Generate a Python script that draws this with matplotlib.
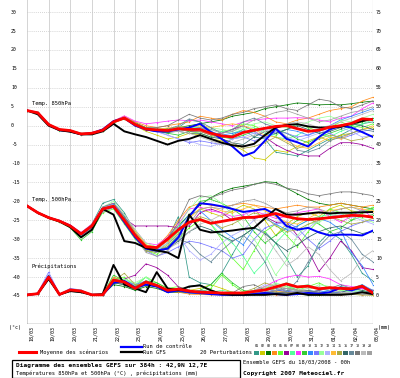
import numpy as np
import matplotlib
matplotlib.use("Agg")
import matplotlib.pyplot as plt
import matplotlib.transforms as mtransforms
from matplotlib.patches import Rectangle
from matplotlib.lines import Line2D

plt.rcParams['font.family'] = ['DejaVu Sans Mono']

# GEFS run 18/03/2008 00h, one point every 12h up to 384h
hours = list(range(0, 385, 12))
days = np.array(hours) / 24.0

date_labels = ["18/03", "19/03", "20/03", "21/03", "22/03", "23/03", "24/03", "25/03", "26/03",
               "27/03", "28/03", "29/03", "30/03", "31/03", "01/04", "02/04", "03/04"]
temp_ticks = list(range(-45, 31, 5))
precip_ticks = list(range(0, 76, 5))

member_ids = ["01", "02", "03", "04", "05", "06", "07", "08", "09", "10",
              "11", "12", "13", "14", "15", "16", "17", "18", "19", "20"]
member_colors = ["#339988", "#cccc00", "#007700", "#ff8c1a", "#66ff33", "#990099", "#55ff99",
                 "#ff33ff", "#33cc33", "#3388ff", "#7777ff", "#99ff99", "#b0b0ff", "#ffbb33",
                 "#aaaa44", "#336666", "#668899", "#777777", "#bbbbbb", "#a0a0a0"]

# ---- 850 hPa (degC) ----
t850_mean = [4.0, 3.4, 0.3, -1.0, -1.3, -2.2, -2.0, -1.2, 1.0, 2.0, 0.3, -0.9, -1.1, -1.3, -0.8, -1.0, -1.0,
             -2.0, -2.7, -3.0, -1.8, -1.2, -0.7, -0.2, 0.0, -0.8, -1.5, -1.2, -0.4, 0.0, 0.6, 1.8, 1.6]
t850_ctrl = [4.0, 3.4, 0.3, -1.2, -1.5, -2.3, -2.0, -1.0, 1.2, 2.0, 0.0, -1.0, -1.5, -1.5, -1.0, -0.5, 0.5,
             -1.7, -3.5, -5.5, -8.0, -7.0, -4.0, -0.8, -3.5, -4.4, -5.5, -3.0, -1.0, 0.0, -0.5, -1.7, -3.0]
t850_gfs = [4.0, 3.0, 0.0, -1.2, -1.6, -2.3, -2.3, -1.5, 0.5, -1.5, -2.3, -3.0, -4.0, -5.0, -4.0, -3.5, -2.5,
            -3.5, -4.5, -5.2, -5.5, -4.8, -2.5, -0.5, 0.2, 0.4, -0.2, -0.5, -0.5, -0.3, 0.5, 1.2, 1.8]
t850_members = [
    [4.0, 3.3, 0.5, -1.2, -1.5, -2.3, -1.9, -1.0, 1.2, 2.2, 0.5, -0.8, -1.5, -2.0, -0.5, 1.5, 1.0,
     -1.5, -3.0, -2.5, -1.0, -3.0, -3.5, -7.0, -7.5, -8.0, -6.5, -5.0, -3.5, -2.5, -1.0, 0.5, 1.0],
    [4.0, 3.5, 0.2, -1.1, -1.2, -2.0, -1.8, -1.3, 0.8, 1.8, 0.0, -1.5, -2.5, -3.5, -3.0, -2.0, -2.5,
     -3.5, -4.0, -5.0, -6.5, -8.5, -9.0, -6.5, -7.0, -5.5, -4.0, -3.0, -4.0, -2.5, -2.0, -1.0, -0.5],
    [4.0, 3.4, 0.4, -0.9, -1.4, -2.1, -2.0, -1.1, 1.1, 2.3, 0.8, -0.5, -1.0, -0.8, -0.5, 0.0, 0.5,
     1.0, 1.5, 2.5, 3.0, 3.5, 4.5, 5.0, 5.5, 6.0, 5.8, 5.5, 5.6, 5.5, 5.8, 6.2, 6.5],
    [4.0, 3.3, 0.3, -1.0, -1.2, -2.2, -2.1, -1.2, 1.3, 2.5, 1.0, 0.0, -0.5, 0.0, 0.5, 1.0, 2.5,
     2.0, 1.5, 3.0, 4.0, 3.5, 2.5, 1.0, 0.5, 1.5, 2.0, 3.0, 4.0, 4.5, 5.0, 6.5, 7.5],
    [4.0, 3.5, 0.3, -1.3, -1.6, -2.4, -2.2, -1.3, 0.7, 1.8, 0.2, -1.0, -1.3, -1.5, -1.0, -1.5, -2.0,
     -3.0, -1.5, -1.0, 0.5, 0.0, -1.5, -2.5, -1.0, 0.5, -0.5, -1.5, -0.5, 1.0, 0.0, -0.5, 0.5],
    [4.0, 3.4, 0.2, -1.0, -1.2, -2.0, -1.9, -1.2, 1.0, 2.1, 0.4, -0.8, -1.2, -1.6, -1.0, -1.5, -1.5,
     -2.5, -2.0, -1.0, 0.0, -1.5, -3.0, -5.0, -6.5, -7.5, -8.0, -8.0, -6.0, -4.5, -4.5, -5.0, -6.0],
    [4.0, 3.3, 0.4, -1.1, -1.4, -2.3, -2.0, -1.0, 1.2, 2.2, 0.6, -0.5, -0.8, -1.0, -0.3, -0.5, -0.5,
     -1.0, -1.5, -2.0, -1.0, -0.5, -2.0, -3.0, -3.5, -2.5, -1.0, -2.0, -3.0, -1.5, -0.5, 0.5, 1.5],
    [4.0, 3.4, 0.3, -1.0, -1.3, -2.1, -1.8, -1.1, 1.2, 2.6, 1.2, 0.5, 0.8, 1.2, 1.5, 1.3, 1.5,
     1.0, 0.5, 0.0, 1.0, 1.5, 1.8, 2.0, 2.0, 2.1, 2.0, 1.5, 1.0, 2.0, 2.5, 4.5, 6.0],
    [4.0, 3.3, 0.3, -1.2, -1.5, -2.4, -2.1, -1.3, 0.8, 1.9, 0.3, -1.0, -1.3, -2.0, -2.5, -1.5, -1.0,
     -2.0, -3.0, -3.5, -2.5, -1.5, -0.5, -1.0, -2.0, -3.5, -4.5, -3.0, -2.0, -1.0, 0.0, 1.0, 2.0],
    [4.0, 3.4, 0.4, -1.0, -1.4, -2.2, -2.0, -1.2, 1.0, 2.0, 0.2, -1.0, -1.5, -1.2, -0.5, -1.0, -0.5,
     -1.5, -2.5, -2.0, -1.5, -2.0, -3.0, -2.0, -1.0, -1.5, -2.5, -1.5, 0.0, 1.5, 2.5, 3.5, 4.5],
    [4.0, 3.5, 0.2, -0.9, -1.2, -2.1, -1.9, -1.2, 0.9, 1.9, 0.1, -1.2, -1.5, -2.5, -3.5, -4.5, -4.0,
     -4.5, -5.0, -3.5, -3.0, -4.0, -3.0, -1.5, -2.0, -3.0, -2.5, -1.0, -2.0, -3.5, -2.5, -1.5, -1.0],
    [4.0, 3.4, 0.3, -1.1, -1.3, -2.2, -2.0, -1.1, 1.1, 2.0, 0.5, -0.7, -1.0, -1.0, -0.7, -0.5, 0.0,
     -0.5, -1.0, -1.5, -0.5, 0.5, 1.0, 0.0, -0.5, 0.0, 1.0, 2.0, 2.5, 1.5, 1.0, 2.0, 3.0],
    [4.0, 3.3, 0.3, -1.0, -1.3, -2.3, -2.1, -1.2, 1.0, 2.1, 0.3, -1.1, -1.6, -2.5, -3.5, -4.0, -5.0,
     -5.5, -4.5, -3.5, -3.0, -2.0, -1.0, -1.5, -3.0, -4.0, -3.0, -2.0, -1.0, -0.5, -1.5, -3.0, -2.5],
    [4.0, 3.4, 0.3, -1.0, -1.4, -2.2, -2.0, -1.2, 1.1, 2.3, 0.6, -0.6, -1.0, -0.6, -0.3, -0.5, 0.0,
     -0.5, 0.0, 0.5, 0.0, -1.0, -2.5, -3.0, -4.0, -5.5, -6.0, -4.5, -3.0, -3.5, -2.0, -1.0, 0.0],
    [4.0, 3.4, 0.4, -1.0, -1.3, -2.1, -2.0, -1.2, 0.9, 2.0, 0.4, -0.9, -1.1, -1.3, -1.0, -1.3, -1.5,
     -2.5, -3.5, -4.5, -6.0, -5.5, -4.5, -3.0, -4.5, -6.0, -5.0, -3.5, -2.5, -3.0, -4.0, -3.5, -2.5],
    [4.0, 3.3, 0.3, -1.1, -1.5, -2.3, -2.0, -1.3, 0.9, 1.9, 0.2, -1.1, -1.5, -1.8, -1.5, -2.0, -2.0,
     -3.0, -3.5, -4.5, -5.0, -3.0, -1.5, -2.0, -1.0, 0.0, -1.0, -2.0, -1.5, -0.5, 0.5, 0.0, -1.0],
    [4.0, 3.4, 0.3, -1.0, -1.2, -2.1, -1.9, -1.0, 1.2, 2.2, 0.5, -0.7, -1.0, -1.0, 0.0, 1.8, 1.0,
     -0.5, -2.0, -1.0, 1.0, 2.0, 0.5, -0.5, -3.0, -6.5, -7.0, -6.0, -4.0, -3.0, -2.0, -1.0, -1.5],
    [4.0, 3.4, 0.3, -1.0, -1.3, -2.2, -2.0, -1.2, 1.1, 2.1, 0.6, -0.5, -0.5, 0.0, 1.5, 3.0, 2.0,
     1.5, 2.0, 3.0, 3.5, 4.5, 5.0, 5.5, 4.5, 4.0, 5.5, 7.0, 6.5, 5.0, 4.5, 5.5, 6.5],
    [4.0, 3.3, 0.3, -1.0, -1.3, -2.2, -2.1, -1.2, 1.0, 2.0, 0.3, -1.0, -1.2, -1.5, -1.5, -2.0, -3.0,
     -4.0, -5.0, -4.5, -3.5, -2.5, -1.5, -0.5, 0.5, 1.0, 0.5, -0.5, 0.0, 1.0, 2.0, 3.0, 4.0],
    [4.0, 3.4, 0.3, -1.0, -1.3, -2.2, -2.0, -1.1, 1.0, 2.1, 0.4, -0.8, -1.0, -1.2, -1.2, -1.0, -0.5,
     -1.0, -2.0, -1.5, 0.0, 1.5, 2.5, 3.5, 4.0, 3.0, 2.0, 1.0, 1.5, 2.5, 3.5, 4.0, 5.0],
]

# ---- 500 hPa (degC) ----
t500_mean = [-21.2, -23.0, -24.3, -25.2, -26.5, -28.6, -26.5, -22.0, -21.3, -25.0, -29.0, -32.0, -32.2,
             -30.0, -27.5, -25.5, -24.8, -25.8, -25.3, -24.8, -24.3, -24.2, -23.8, -23.2, -24.0, -24.6,
             -24.8, -24.6, -24.3, -24.0, -23.7, -23.8, -24.2]
t500_ctrl = [-21.2, -23.0, -24.3, -25.2, -26.5, -28.7, -26.6, -22.0, -21.4, -25.5, -29.5, -32.5, -33.0,
             -32.5, -29.5, -24.0, -20.5, -20.8, -21.3, -22.0, -22.8, -22.4, -22.0, -23.5, -26.5, -27.5,
             -27.0, -28.2, -29.0, -28.8, -28.8, -29.0, -27.7]
t500_gfs = [-21.2, -23.0, -24.3, -25.3, -26.8, -29.5, -27.5, -22.0, -23.5, -30.5, -31.0, -32.3, -33.0,
            -33.5, -35.0, -23.5, -27.5, -28.2, -28.0, -27.7, -27.3, -27.0, -24.5, -22.0, -23.5, -23.5,
            -23.2, -22.9, -23.2, -23.0, -23.0, -22.9, -22.8]
t500_members = [
    [-21.2, -23.0, -24.2, -25.0, -26.3, -28.4, -26.0, -20.5, -19.5, -23.0, -28.0, -31.5, -33.0, -30.0, -24.0, -40.0, -41.5,
     -42.0, -39.0, -34.0, -29.0, -27.0, -28.0, -31.0, -35.0, -40.0, -37.0, -31.0, -28.0, -30.0, -34.0, -39.0, -41.0],
    [-21.2, -23.1, -24.4, -25.3, -26.6, -28.8, -27.0, -22.5, -21.5, -25.5, -29.5, -33.0, -33.5, -31.0, -28.0, -24.0, -22.0,
     -23.0, -24.0, -22.5, -21.0, -22.0, -25.0, -29.0, -26.0, -24.0, -23.0, -24.0, -22.0, -21.0, -22.5, -23.0, -22.0],
    [-21.2, -23.0, -24.3, -25.1, -26.4, -28.5, -26.5, -22.0, -21.0, -24.5, -28.5, -32.0, -32.5, -29.5, -26.5, -23.5, -21.0,
     -19.0, -17.5, -16.5, -16.0, -15.5, -14.8, -15.0, -16.5, -18.0, -19.5, -20.5, -21.0, -20.5, -21.0, -21.5, -22.0],
    [-21.2, -22.9, -24.2, -25.1, -26.4, -28.3, -26.3, -21.5, -20.5, -24.0, -28.0, -31.5, -32.0, -29.0, -25.0, -21.5, -20.5,
     -21.0, -21.5, -21.0, -20.5, -21.0, -21.5, -22.0, -21.5, -21.0, -21.5, -21.5, -21.0, -20.5, -21.0, -21.5, -21.0],
    [-21.2, -23.1, -24.5, -25.4, -26.8, -29.5, -27.5, -23.0, -22.0, -26.0, -30.0, -33.0, -34.0, -32.0, -30.0, -27.0, -25.0,
     -26.0, -30.0, -35.0, -38.0, -33.0, -28.0, -26.0, -29.0, -32.0, -28.0, -25.0, -22.0, -23.0, -25.0, -23.0, -21.5],
    [-21.2, -23.0, -24.3, -25.2, -26.5, -28.6, -26.8, -22.5, -21.5, -24.5, -26.5, -26.5, -26.5, -26.5, -27.0, -26.5, -23.0,
     -22.0, -23.0, -25.0, -24.0, -24.5, -24.0, -25.5, -25.5, -29.0, -33.0, -38.5, -35.0, -30.5, -33.0, -37.5, -38.0],
    [-21.2, -23.0, -24.4, -25.3, -26.6, -29.0, -27.2, -22.8, -21.5, -25.0, -29.5, -32.5, -33.0, -31.0, -28.0, -25.5, -24.5,
     -26.0, -29.0, -31.0, -34.5, -39.0, -36.0, -31.0, -28.0, -26.5, -25.0, -24.0, -23.5, -24.0, -23.0, -22.5, -22.0],
    [-21.2, -22.9, -24.2, -25.0, -26.2, -28.2, -26.0, -21.5, -20.5, -23.5, -27.5, -31.0, -31.5, -29.5, -26.0, -22.0, -21.5,
     -22.5, -23.0, -24.0, -23.5, -22.5, -23.5, -24.5, -24.0, -23.0, -22.5, -22.0, -24.0, -25.5, -24.0, -22.0, -24.5],
    [-21.2, -23.2, -24.5, -25.5, -27.0, -30.2, -28.0, -22.5, -21.0, -24.5, -29.0, -32.5, -33.5, -32.0, -29.0, -24.0, -20.0,
     -19.5, -20.5, -22.0, -24.0, -28.0, -31.0, -29.0, -27.0, -25.0, -24.5, -26.0, -28.0, -27.0, -25.0, -24.0, -23.5],
    [-21.2, -23.0, -24.3, -25.2, -26.5, -28.7, -26.5, -21.8, -20.8, -24.0, -28.5, -32.0, -32.5, -30.5, -27.0, -23.5, -22.5,
     -25.0, -27.5, -29.5, -31.5, -27.0, -24.5, -26.0, -27.5, -26.5, -25.0, -24.5, -25.5, -27.5, -33.5, -37.0, -42.0],
    [-21.2, -23.1, -24.4, -25.3, -26.7, -29.0, -27.0, -22.0, -21.0, -25.0, -29.0, -33.0, -34.5, -33.5, -32.0, -30.5, -31.0,
     -32.0, -33.0, -35.0, -34.0, -30.0, -27.0, -26.0, -25.5, -27.0, -30.0, -32.5, -30.5, -28.0, -26.5, -25.5, -25.0],
    [-21.2, -23.0, -24.3, -25.2, -26.4, -28.5, -26.5, -21.5, -20.0, -23.5, -27.5, -31.0, -32.0, -30.0, -26.5, -22.0, -19.0,
     -18.5, -20.5, -23.5, -27.0, -30.0, -34.0, -39.5, -35.5, -29.0, -26.0, -25.5, -24.0, -23.0, -23.5, -24.5, -25.5],
    [-21.2, -23.0, -24.3, -25.3, -26.6, -28.8, -27.0, -22.5, -21.5, -25.0, -29.0, -32.5, -33.0, -31.0, -29.0, -33.0, -35.5,
     -34.0, -31.0, -29.0, -27.5, -25.0, -23.0, -24.0, -27.0, -29.5, -27.0, -25.0, -24.0, -23.5, -24.0, -25.0, -26.0],
    [-21.2, -22.9, -24.2, -25.1, -26.4, -28.4, -26.2, -21.8, -21.0, -24.5, -28.0, -31.5, -32.5, -30.5, -27.5, -24.5, -22.0,
     -21.5, -22.5, -23.0, -22.0, -21.0, -22.5, -24.0, -25.5, -26.0, -24.5, -23.0, -22.5, -22.0, -21.5, -22.0, -22.5],
    [-21.2, -23.1, -24.4, -25.3, -26.5, -28.6, -26.8, -22.2, -21.5, -25.0, -29.5, -33.0, -33.5, -31.5, -28.5, -25.5, -24.0,
     -25.0, -27.0, -26.0, -24.5, -23.0, -24.0, -26.5, -28.0, -27.5, -26.0, -25.0, -24.0, -25.0, -26.0, -25.5, -24.5],
    [-21.2, -23.0, -24.3, -25.2, -26.5, -28.6, -26.5, -22.0, -21.3, -25.0, -29.0, -32.5, -33.5, -32.5, -30.5, -28.0, -26.5,
     -27.5, -29.0, -30.5, -29.0, -27.0, -28.5, -31.0, -33.0, -31.5, -29.5, -28.0, -27.0, -26.5, -27.5, -28.5, -28.0],
    [-21.2, -23.0, -24.2, -25.1, -26.3, -28.3, -26.2, -21.5, -20.5, -24.0, -28.5, -32.0, -33.0, -32.0, -30.0, -31.0, -34.0,
     -36.0, -33.0, -30.5, -29.0, -31.5, -36.0, -42.0, -44.0, -41.0, -36.0, -32.0, -29.0, -28.0, -30.0, -34.0, -36.0],
    [-21.2, -23.0, -24.3, -25.2, -26.5, -28.6, -26.6, -22.0, -21.2, -24.5, -28.5, -32.0, -32.5, -30.0, -25.5, -19.5, -18.5,
     -19.0, -18.0, -17.0, -16.5, -15.5, -15.0, -15.5, -16.5, -17.0, -18.0, -18.5, -18.0, -17.5, -17.5, -18.0, -18.5],
    [-21.2, -23.0, -24.3, -25.2, -26.5, -28.7, -27.0, -22.5, -21.5, -25.0, -29.0, -32.5, -33.5, -32.5, -31.0, -28.0, -26.0,
     -25.0, -23.5, -22.0, -22.5, -25.0, -29.0, -33.0, -37.0, -35.0, -32.0, -34.0, -38.0, -41.0, -39.0, -35.0, -33.0],
    [-21.2, -23.1, -24.4, -25.2, -26.6, -28.9, -27.2, -22.7, -21.7, -25.5, -29.5, -33.5, -34.5, -33.0, -30.0, -26.0, -22.0,
     -21.5, -22.0, -21.0, -20.0, -19.5, -20.5, -22.0, -23.0, -22.5, -21.5, -22.0, -23.0, -22.0, -21.5, -22.5, -23.0],
]

# ---- precipitation (mm, right axis) ----
pr_mean = [0.3, 0.6, 5.0, 0.4, 1.6, 1.3, 0.3, 0.3, 4.2, 3.7, 2.0, 3.7, 2.8, 1.5, 1.8, 1.3, 1.0,
           0.9, 0.8, 0.8, 0.8, 1.2, 1.6, 2.4, 3.2, 2.4, 2.6, 1.9, 2.2, 2.0, 1.9, 2.6, 0.8]
pr_ctrl = [0.3, 0.6, 5.2, 0.4, 1.5, 1.2, 0.3, 0.3, 3.5, 4.0, 2.2, 3.0, 2.5, 1.0, 1.5, 1.0, 0.8,
           0.5, 0.3, 0.3, 0.3, 0.5, 0.8, 0.5, 0.3, 0.5, 0.8, 0.6, 1.0, 2.2, 1.5, 2.5, 1.0]
pr_gfs = [0.3, 0.6, 4.5, 0.4, 1.3, 1.0, 0.3, 0.5, 8.2, 3.0, 2.0, 1.0, 6.3, 2.0, 1.5, 2.5, 2.8,
          1.5, 0.5, 0.3, 0.3, 0.3, 0.3, 0.5, 0.3, 0.8, 0.3, 0.3, 0.3, 0.3, 0.5, 1.0, 0.5]
pr_members = [
    [0.3, 0.5, 4.5, 0.4, 1.5, 1.0, 0.3, 0.3, 3.5, 3.0, 1.5, 3.0, 2.5, 1.0, 1.0, 2.5, 3.0,
     1.5, 0.8, 0.5, 0.4, 0.8, 1.5, 2.5, 3.0, 1.5, 1.0, 0.8, 1.5, 2.5, 2.0, 3.0, 1.0],
    [0.3, 0.6, 5.5, 0.3, 1.8, 1.4, 0.3, 0.3, 4.5, 3.5, 2.5, 4.0, 3.0, 1.5, 2.0, 1.5, 2.0,
     3.0, 2.0, 1.0, 0.8, 1.5, 2.5, 1.5, 1.0, 0.5, 0.4, 0.3, 0.5, 1.0, 0.8, 0.5, 0.3],
    [0.3, 0.6, 4.8, 0.4, 1.2, 1.0, 0.3, 0.3, 3.0, 2.5, 1.5, 2.5, 2.0, 1.0, 1.0, 0.8, 0.6,
     0.5, 0.4, 0.3, 0.3, 0.4, 0.5, 0.6, 0.5, 0.4, 0.3, 0.3, 0.4, 0.5, 0.4, 0.3, 0.3],
    [0.3, 0.7, 5.0, 0.5, 1.6, 1.3, 0.3, 0.4, 5.0, 4.0, 2.0, 3.0, 2.5, 1.2, 1.0, 0.5, 0.4,
     0.3, 0.3, 0.3, 0.3, 0.4, 0.5, 0.3, 0.3, 0.4, 0.5, 0.4, 0.3, 0.3, 0.4, 0.3, 0.3],
    [0.3, 0.6, 5.2, 0.4, 1.8, 1.5, 0.3, 0.3, 4.5, 5.0, 2.5, 5.0, 3.5, 2.0, 2.5, 1.5, 1.0,
     2.0, 5.5, 3.0, 1.0, 1.5, 2.0, 3.0, 2.5, 1.5, 2.5, 3.5, 2.0, 1.5, 1.0, 0.8, 0.5],
    [0.3, 0.5, 4.5, 0.3, 1.4, 1.2, 0.3, 0.3, 3.5, 4.5, 5.5, 8.5, 7.5, 5.5, 2.4, 1.5, 1.0,
     0.8, 0.5, 0.5, 0.4, 0.5, 1.0, 1.5, 1.2, 1.0, 0.8, 1.5, 2.0, 1.0, 1.5, 2.0, 1.0],
    [0.3, 0.6, 5.0, 0.4, 1.6, 1.3, 0.3, 0.3, 4.0, 4.5, 3.0, 5.0, 2.5, 1.5, 1.5, 1.0, 0.8,
     1.0, 1.5, 1.0, 0.8, 1.0, 1.5, 2.5, 3.5, 2.5, 3.0, 2.0, 1.5, 1.0, 1.5, 1.2, 0.8],
    [0.3, 0.6, 4.8, 0.4, 1.5, 1.2, 0.3, 0.3, 4.0, 3.5, 2.0, 3.0, 3.0, 1.5, 2.0, 1.0, 0.8,
     0.6, 0.5, 0.5, 0.6, 1.0, 2.5, 4.0, 5.0, 5.5, 5.0, 5.2, 4.5, 3.0, 2.5, 2.0, 1.5],
    [0.3, 0.7, 5.5, 0.4, 1.7, 1.3, 0.3, 0.4, 5.5, 4.0, 2.5, 4.0, 3.5, 2.0, 2.0, 1.0, 1.5,
     3.0, 6.0, 3.5, 1.5, 1.0, 0.8, 1.5, 2.0, 1.5, 1.0, 0.8, 1.0, 0.8, 0.5, 0.4, 0.3],
    [0.3, 0.5, 4.5, 0.3, 1.3, 1.0, 0.3, 0.3, 3.5, 3.5, 2.0, 3.0, 2.5, 1.0, 1.2, 0.8, 0.6,
     0.5, 0.5, 0.4, 0.4, 0.6, 1.0, 1.5, 1.2, 0.8, 1.5, 1.0, 1.5, 2.0, 1.0, 3.0, 1.5],
    [0.3, 0.8, 6.3, 0.5, 2.0, 1.6, 0.3, 0.3, 4.5, 4.0, 3.0, 4.0, 3.0, 1.5, 1.5, 1.0, 1.0,
     0.8, 0.6, 0.5, 0.5, 0.8, 1.0, 1.5, 2.0, 1.5, 1.2, 1.0, 0.8, 1.0, 1.5, 1.0, 0.8],
    [0.3, 0.6, 5.0, 0.4, 1.5, 1.2, 0.3, 0.3, 4.0, 4.5, 3.5, 5.0, 3.0, 1.5, 2.0, 1.0, 0.8,
     0.6, 0.5, 0.4, 0.5, 1.0, 2.0, 3.5, 2.5, 2.0, 1.5, 3.0, 2.5, 1.5, 1.0, 1.5, 1.0],
    [0.3, 0.8, 6.0, 0.5, 1.6, 1.3, 0.3, 0.3, 4.0, 3.5, 2.5, 3.5, 3.0, 1.5, 1.8, 1.5, 1.0,
     0.8, 0.8, 0.6, 0.8, 1.5, 3.0, 2.0, 1.5, 1.0, 0.8, 0.6, 0.5, 0.8, 1.0, 0.8, 0.5],
    [0.3, 0.6, 5.0, 0.4, 1.6, 1.3, 0.3, 0.4, 4.5, 3.5, 2.0, 3.5, 2.5, 1.5, 1.5, 1.0, 0.8,
     0.6, 0.5, 0.4, 0.4, 0.6, 1.0, 1.2, 1.0, 0.8, 0.6, 0.5, 0.4, 0.5, 0.6, 0.4, 0.3],
    [0.3, 0.6, 4.8, 0.4, 1.4, 1.2, 0.3, 0.3, 4.0, 6.0, 3.0, 3.0, 2.5, 1.5, 1.5, 1.2, 1.0,
     1.0, 1.0, 0.8, 1.0, 2.0, 3.5, 2.5, 2.0, 1.5, 1.2, 1.0, 0.8, 0.6, 0.5, 0.5, 0.4],
    [0.3, 0.5, 4.5, 0.4, 1.5, 1.1, 0.3, 0.3, 3.5, 3.0, 2.0, 3.0, 2.5, 1.2, 1.2, 1.0, 0.8,
     0.6, 0.5, 0.5, 0.4, 0.5, 0.8, 1.0, 0.8, 0.6, 0.5, 0.5, 0.6, 0.8, 2.0, 1.5, 0.8],
    [0.3, 0.6, 5.0, 0.4, 1.7, 1.4, 0.3, 0.3, 4.0, 3.5, 2.5, 3.5, 3.0, 1.5, 1.5, 1.0, 1.5,
     1.2, 0.8, 0.6, 0.6, 0.8, 1.5, 2.0, 1.5, 1.2, 1.0, 1.5, 2.0, 3.0, 2.0, 2.5, 1.5],
    [0.3, 0.6, 5.0, 0.4, 1.5, 1.3, 0.3, 0.3, 4.0, 3.0, 2.5, 3.5, 2.5, 1.5, 1.5, 1.2, 1.0,
     1.0, 0.8, 0.8, 2.5, 3.0, 1.5, 1.0, 0.8, 1.0, 1.5, 1.0, 0.8, 0.6, 0.5, 0.6, 0.4],
    [0.3, 0.6, 5.0, 0.4, 1.5, 1.3, 0.3, 0.3, 4.0, 3.5, 2.0, 3.5, 2.5, 1.5, 1.5, 1.0, 1.0,
     0.8, 0.6, 0.6, 0.8, 1.5, 2.5, 3.0, 2.0, 1.5, 2.0, 2.5, 1.5, 1.0, 0.8, 0.6, 0.5],
    [0.3, 0.6, 5.0, 0.4, 1.6, 1.3, 0.3, 0.3, 4.0, 3.5, 2.0, 3.5, 2.5, 1.5, 1.5, 1.0, 0.8,
     0.8, 0.6, 0.5, 0.6, 0.8, 1.0, 1.5, 2.0, 1.5, 1.0, 0.8, 0.6, 0.5, 0.6, 0.5, 0.4],
]

W, H = 400, 378
fig = plt.figure(figsize=(4, 3.78), dpi=100)
fig.patch.set_facecolor("white")

# plot area in pixels: x 27..373, y 0..324
ax = fig.add_axes([27 / W, 1 - 324 / H, 346 / W, 324 / H])
ax.set_xlim(0, 16)
ax.set_ylim(-52.4, 33.2)
ax2 = ax.twinx()
ax2.set_ylim(-52.4 + 45, 33.2 + 45)   # mm scale: 0 mm sits on -45 degC

for a in (ax, ax2):
    a.set_xticks([])
    a.set_yticks([])
    a.patch.set_visible(False)
    for s in a.spines.values():
        s.set_visible(False)

# grid
for d in range(17):
    ax.axvline(d, color="#d4d4d4", lw=0.7, zorder=0)
for v in temp_ticks:
    ax.axhline(v, color="#c8c8c8", lw=0.6, ls=(0, (1, 1.5)), zorder=0)
ax.axhline(-52.4, color="#777777", lw=1.0, zorder=0.5)
ax.axvline(16, color="#aaaaaa", lw=0.8, zorder=0.5)

# members
for i in range(20):
    c = member_colors[i]
    ax.plot(days, t850_members[i], color=c, lw=0.55, marker="o", ms=1.0, mew=0, zorder=1)
    ax.plot(days, t500_members[i], color=c, lw=0.55, marker="o", ms=1.0, mew=0, zorder=1)
    ax2.plot(days, pr_members[i], color=c, lw=0.55, marker="o", ms=1.0, mew=0, zorder=1)

# control run, GFS run, ensemble mean
ax.plot(days, t850_ctrl, color="#0000ff", lw=1.4, zorder=2)
ax.plot(days, t500_ctrl, color="#0000ff", lw=1.4, zorder=2)
ax.plot(days, t850_gfs, color="black", lw=1.4, zorder=3)
ax.plot(days, t500_gfs, color="black", lw=1.4, zorder=3)
ax.plot(days, t850_mean, color="#ff0000", lw=2.0, zorder=4)
ax.plot(days, t500_mean, color="#ff0000", lw=2.0, zorder=4)
ax2.plot(days, pr_ctrl, color="#0000ff", lw=1.4, zorder=2)
ax2.plot(days, pr_gfs, color="black", lw=1.4, zorder=3)
ax2.plot(days, pr_mean, color="#ff0000", lw=2.0, zorder=4)

# axis labels
fs_tick = 3.5
left_tr = mtransforms.blended_transform_factory(fig.transFigure, ax.transData)
for v in temp_ticks:
    fig.text(11 / W, v, str(v), transform=left_tr, ha="left", va="center", fontsize=fs_tick)
right_tr = mtransforms.blended_transform_factory(fig.transFigure, ax2.transData)
for v in precip_ticks:
    fig.text(376 / W, v, str(v), transform=right_tr, ha="left", va="center", fontsize=fs_tick)
date_tr = mtransforms.offset_copy(mtransforms.blended_transform_factory(ax.transData, fig.transFigure),
                                  fig=fig, x=4, y=0, units="dots")
for d, lab in enumerate(date_labels):
    fig.text(d, 1 - 326 / H, lab, transform=date_tr, rotation=90, ha="center", va="top", fontsize=3.6)
fig.text(9 / W, 1 - 328 / H, "(°c)", ha="left", va="center", fontsize=3.6)
fig.text(378 / W, 1 - 328 / H, "(mm)", ha="left", va="center", fontsize=3.6)

# panel titles
fs = 3.9
fig.text(32 / W, 1 - 104 / H, "Temp. 850hPa", ha="left", va="center", fontsize=fs)
fig.text(32 / W, 1 - 200 / H, "Temp. 500hPa", ha="left", va="center", fontsize=fs)
fig.text(32 / W, 1 - 266 / H, "Précipitations", ha="left", va="center", fontsize=fs)

# legend
fig.add_artist(Line2D([19 / W, 36 / W], [1 - 352 / H] * 2, color="#ff0000", lw=2.2))
fig.text(40 / W, 1 - 352 / H, "Moyenne des scénarios", ha="left", va="center", fontsize=fs)
fig.add_artist(Line2D([121 / W, 142 / W], [1 - 347 / H] * 2, color="#0000ff", lw=1.6))
fig.text(143 / W, 1 - 346.5 / H, "Run de contrôle", ha="left", va="center", fontsize=fs)
fig.add_artist(Line2D([121 / W, 142 / W], [1 - 352 / H] * 2, color="black", lw=1.6))
fig.text(143 / W, 1 - 353 / H, "Run GFS", ha="left", va="center", fontsize=fs)
fig.text(200 / W, 1 - 352 / H, "20 Perturbations", ha="left", va="center", fontsize=fs)
for i, (mid, c) in enumerate(zip(member_ids, member_colors)):
    x0 = 254 + 5.95 * i
    fig.add_artist(Rectangle((x0 / W, 1 - 355 / H), 5 / W, 4 / H, transform=fig.transFigure,
                             facecolor=c, edgecolor="none"))
    fig.text((x0 + 2.5) / W, 1 - 346 / H, mid, ha="center", va="center", fontsize=2.4)

# footer
fig.add_artist(Rectangle((12 / W, 1 - 377.5 / H), 228 / W, 17.5 / H, transform=fig.transFigure,
                         facecolor="none", edgecolor="black", lw=0.9))
fig.text(16 / W, 1 - 365 / H, "Diagramme des ensembles GEFS sur 384h : 42,9N 12,7E",
         ha="left", va="center", fontsize=4.4, fontweight="bold")
fig.text(16 / W, 1 - 373 / H, "Températures 850hPa et 500hPa (°C) , précipitations (mm)",
         ha="left", va="center", fontsize=3.9)
fig.text(243 / W, 1 - 362 / H, "Ensemble GEFS du 18/03/2008 - 00h",
         ha="left", va="center", fontsize=3.9)
fig.text(243 / W, 1 - 373 / H, "Copyright 2007 Meteociel.fr",
         ha="left", va="center", fontsize=4.4, fontweight="bold")

fig.savefig("out.png", dpi=100)
